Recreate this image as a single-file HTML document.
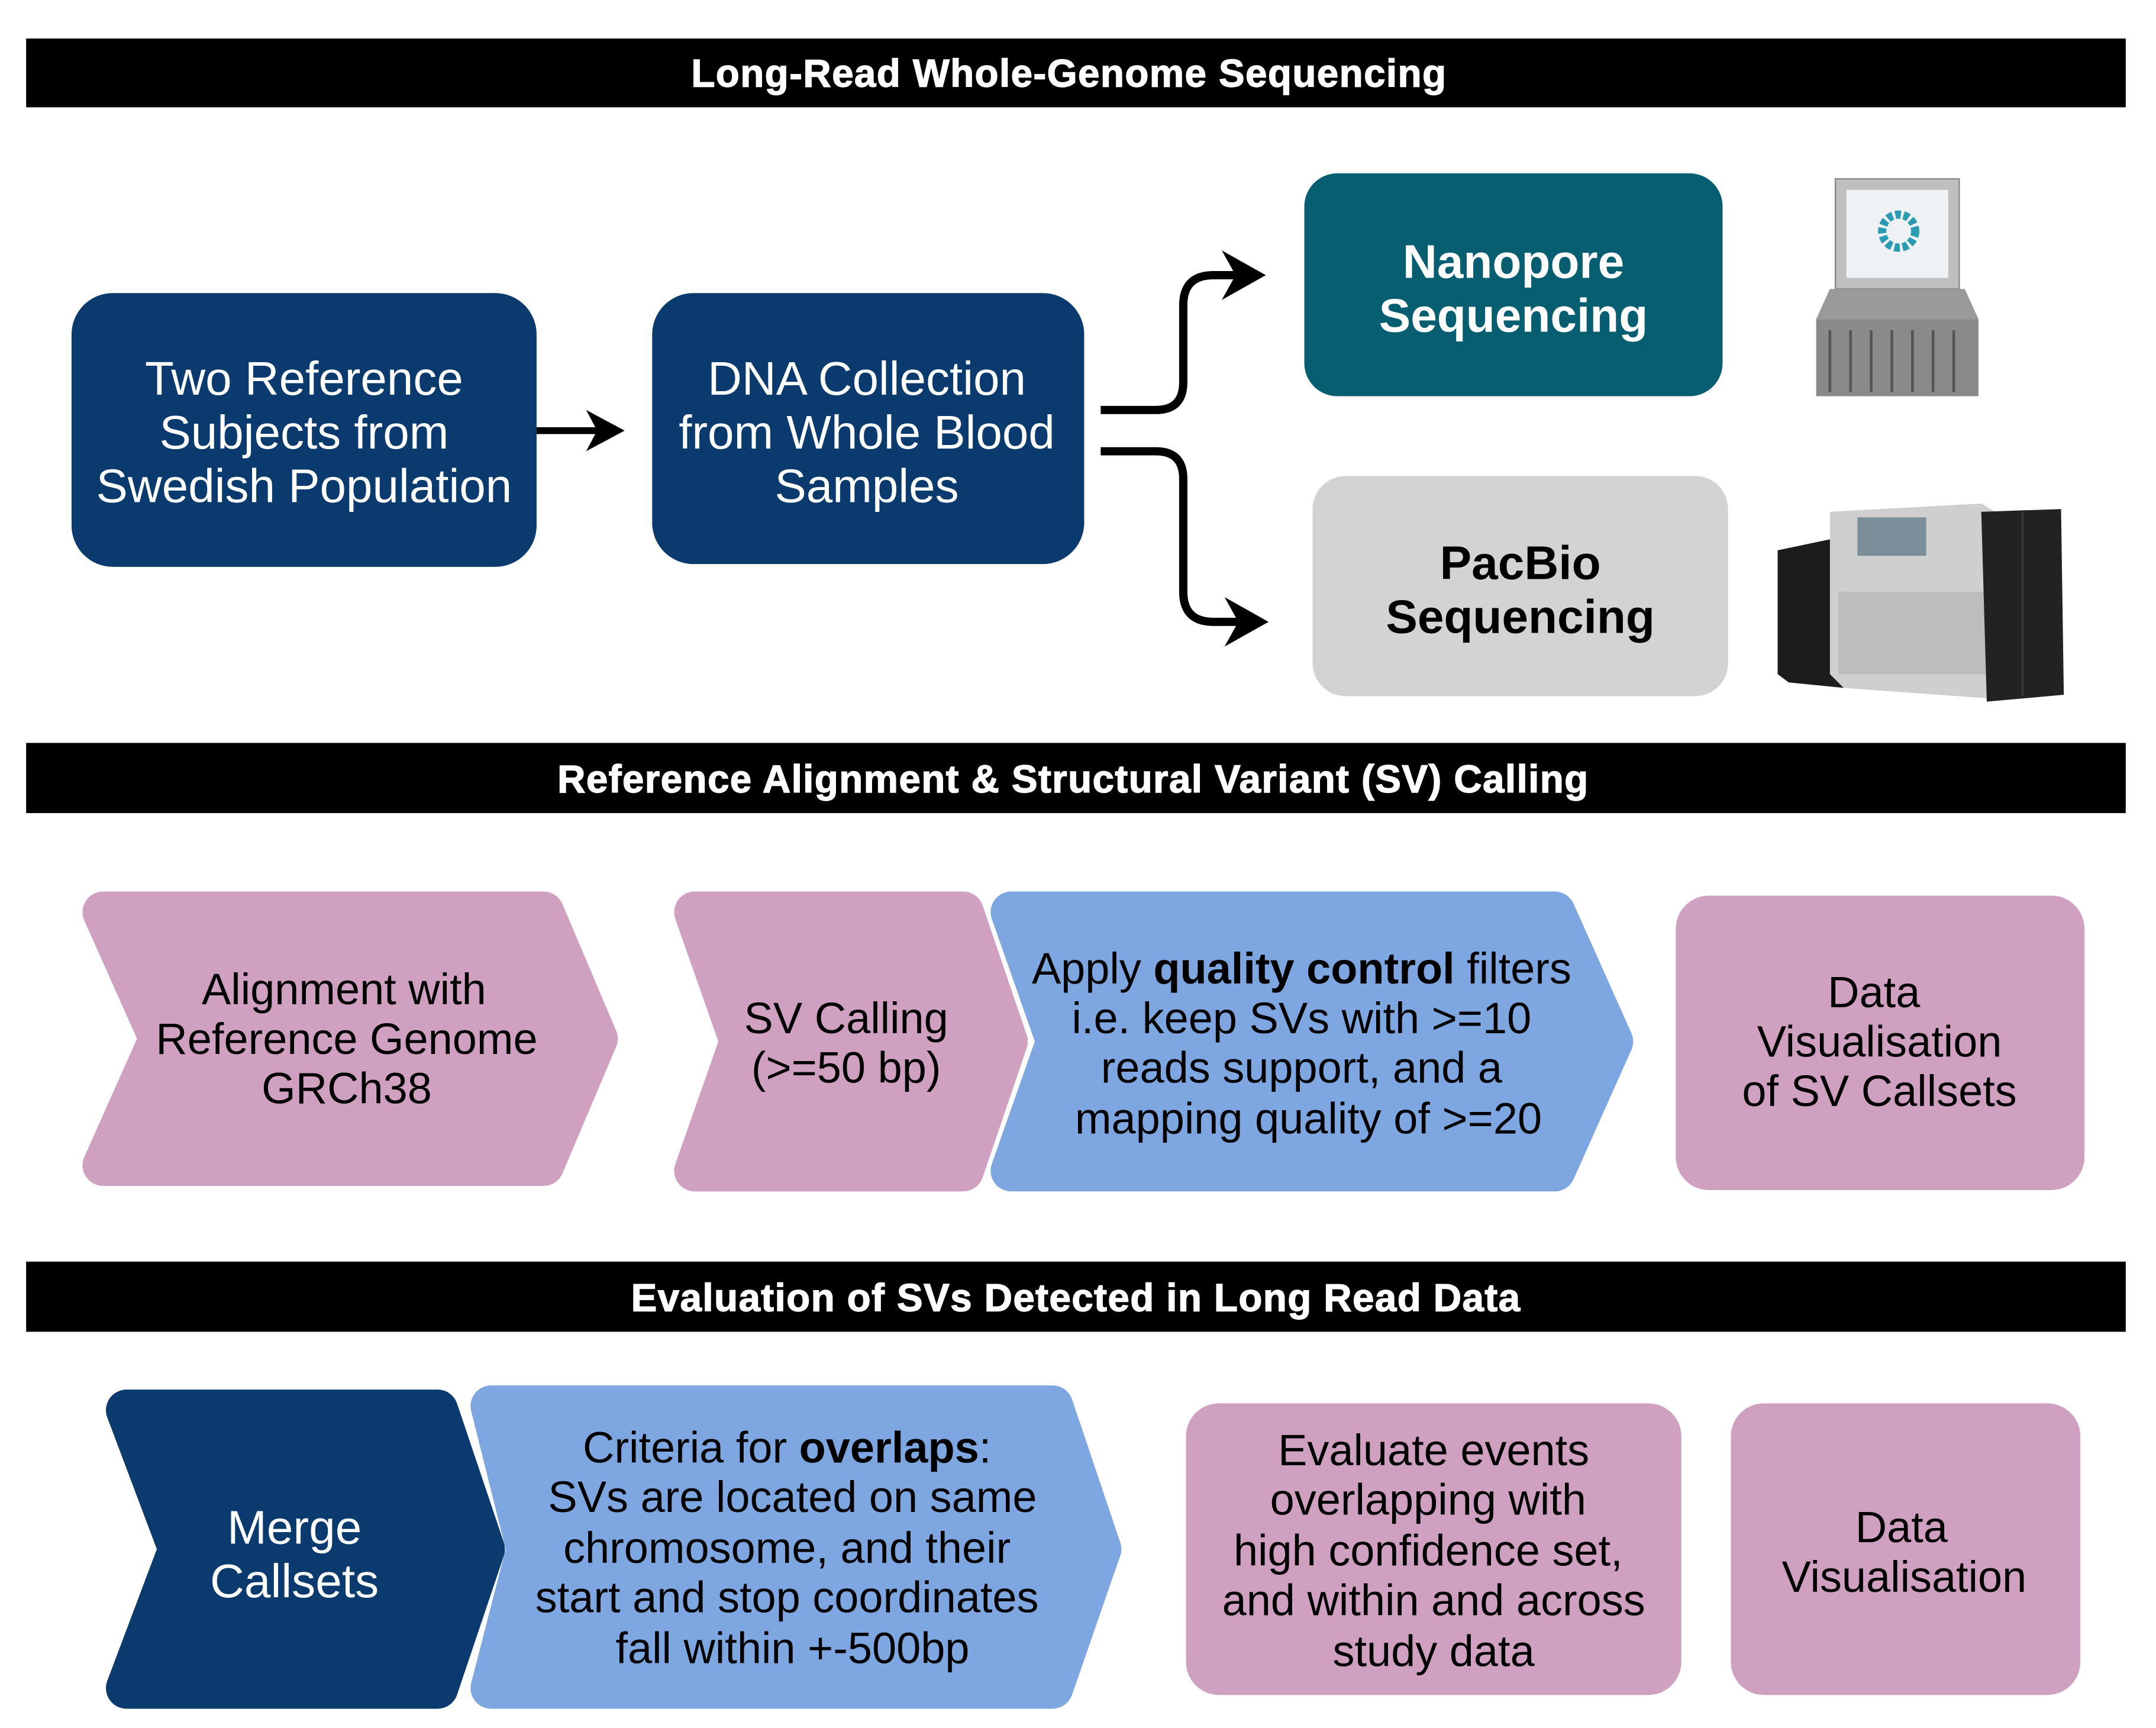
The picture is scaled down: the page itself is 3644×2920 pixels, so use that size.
<!DOCTYPE html>
<html><head><meta charset="utf-8"><style>
html,body{margin:0;padding:0;background:#fff}
svg{display:block}
text{font-family:"Liberation Sans",Arial,sans-serif}
</style></head><body>
<svg width="3644" height="2920" viewBox="0 0 1567 1256" preserveAspectRatio="none" xmlns="http://www.w3.org/2000/svg">
<rect width="1567" height="1256" fill="#fff"/>
<!-- headers -->
<rect x="19" y="28" width="1526" height="50" fill="#000"/>
<text x="777" y="63" font-size="28.2" font-weight="bold" fill="#fff" text-anchor="middle" letter-spacing="0.6" stroke="#fff" stroke-width="0.6">Long-Read Whole-Genome Sequencing</text>
<rect x="19" y="540" width="1526" height="51" fill="#000"/>
<text x="780" y="576" font-size="28.2" font-weight="bold" fill="#fff" text-anchor="middle" letter-spacing="0.6" stroke="#fff" stroke-width="0.6">Reference Alignment &amp; Structural Variant (SV) Calling</text>
<rect x="19" y="917" width="1526" height="51" fill="#000"/>
<text x="782" y="953" font-size="28.2" font-weight="bold" fill="#fff" text-anchor="middle" letter-spacing="0.6" stroke="#fff" stroke-width="0.6">Evaluation of SVs Detected in Long Read Data</text>

<!-- row 1 -->
<rect x="52" y="213" width="338" height="199" rx="30" fill="#0b3a6e"/>
<g font-size="34.4" fill="#fff" text-anchor="middle">
<text x="221" y="287">Two Reference</text>
<text x="221" y="326">Subjects from</text>
<text x="221" y="365">Swedish Population</text>
</g>
<line x1="390" y1="313" x2="440" y2="313" stroke="#000" stroke-width="5"/>
<polygon points="454,313 426,298 434,313 426,328" fill="#000"/>
<rect x="474" y="213" width="314" height="197" rx="30" fill="#0b3a6e"/>
<g font-size="34.4" fill="#fff" text-anchor="middle">
<text x="630" y="287">DNA Collection</text>
<text x="630" y="326">from Whole Blood</text>
<text x="630" y="365">Samples</text>
</g>
<path d="M800,298 H840 Q860,298 860,278 V222 Q860,200 882,200 H905" fill="none" stroke="#000" stroke-width="6"/>
<polygon points="920,200 888,182 898,200 888,218" fill="#000"/>
<path d="M800,328 H840 Q860,328 860,348 V430 Q860,452 882,452 H905" fill="none" stroke="#000" stroke-width="6"/>
<polygon points="922,452 890,434 900,452 890,470" fill="#000"/>
<rect x="948" y="126" width="304" height="162" rx="24" fill="#075e70"/>
<g font-size="34.5" font-weight="bold" fill="#fff" text-anchor="middle">
<text x="1100" y="202">Nanopore</text>
<text x="1100" y="241">Sequencing</text>
</g>
<rect x="954" y="346" width="302" height="160" rx="24" fill="#d3d3d3"/>
<g font-size="34.5" font-weight="bold" fill="#000" text-anchor="middle">
<text x="1105" y="421">PacBio</text>
<text x="1105" y="460">Sequencing</text>
</g>
<!-- nanopore device -->
<g>
<rect x="1334" y="130" width="90" height="80" fill="#bfbfbf" stroke="#888"/>
<rect x="1342" y="138" width="74" height="64" fill="#eef2f4"/>
<circle cx="1380" cy="168" r="12" fill="none" stroke="#2a9bb0" stroke-width="6" stroke-dasharray="4 2"/>
<polygon points="1330,210 1428,210 1438,232 1320,232" fill="#9a9a9a"/>
<rect x="1320" y="232" width="118" height="56" fill="#8a8a8a"/>
<g stroke="#555" stroke-width="2">
<line x1="1330" y1="240" x2="1330" y2="285"/><line x1="1345" y1="240" x2="1345" y2="285"/>
<line x1="1360" y1="240" x2="1360" y2="285"/><line x1="1375" y1="240" x2="1375" y2="285"/>
<line x1="1390" y1="240" x2="1390" y2="285"/><line x1="1405" y1="240" x2="1405" y2="285"/>
<line x1="1420" y1="240" x2="1420" y2="285"/>
</g>
</g>
<!-- pacbio device -->
<g>
<polygon points="1292,400 1330,392 1340,400 1340,500 1300,496 1292,490" fill="#1c1c1c"/>
<polygon points="1330,372 1440,366 1450,372 1450,508 1340,500 1330,490" fill="#cfcfcf"/>
<rect x="1350" y="376" width="50" height="28" fill="#7a8f99"/>
<rect x="1336" y="430" width="110" height="60" fill="#bdbdbd"/>
<polygon points="1440,372 1498,370 1500,505 1444,510" fill="#222"/>
<line x1="1470" y1="372" x2="1470" y2="506" stroke="#333" stroke-width="2"/>
</g>

<!-- row 2 -->
<g stroke-linejoin="round" stroke-width="30">
<polygon points="75,663 395,663 434,755 395,847 75,847 116,755" fill="#cfa0bf" stroke="#cfa0bf"/>
<polygon points="505,663 700,663 732,757 700,851 505,851 538,757" fill="#cfa0bf" stroke="#cfa0bf"/>
<polygon points="735,663 1130,663 1172,757 1130,851 735,851 768,757" fill="#7ea6e0" stroke="#7ea6e0"/>
</g>
<rect x="1218" y="651" width="297" height="214" rx="24" fill="#cfa0bf"/>
<g font-size="31.8" fill="#000" text-anchor="middle">
<text x="250" y="730">Alignment with</text>
<text x="252" y="766">Reference Genome</text>
<text x="252" y="802">GRCh38</text>
<text x="615" y="751">SV Calling</text>
<text x="615" y="787">(&gt;=50 bp)</text>
<text x="946" y="715">Apply <tspan font-weight="bold">quality control</tspan> filters</text>
<text x="946" y="751">i.e. keep SVs with &gt;=10</text>
<text x="946" y="787">reads support, and a</text>
<text x="951" y="824">mapping quality of &gt;=20</text>
<text x="1362" y="732">Data</text>
<text x="1366" y="768">Visualisation</text>
<text x="1366" y="804">of SV Callsets</text>
</g>

<!-- row 3 -->
<g stroke-linejoin="round" stroke-width="30">
<polygon points="92,1025 318,1025 352,1126 318,1227 92,1227 130,1126" fill="#0b3a6e" stroke="#0b3a6e"/>
<polygon points="357,1022 765,1022 800,1126 765,1227 357,1227 383,1126" fill="#7ea6e0" stroke="#7ea6e0"/>
</g>
<rect x="862" y="1020" width="360" height="212" rx="24" fill="#cfa0bf"/>
<rect x="1258" y="1020" width="254" height="212" rx="24" fill="#cfa0bf"/>
<g font-size="34.5" fill="#fff" text-anchor="middle">
<text x="214" y="1122">Merge</text>
<text x="214" y="1161">Callsets</text>
</g>
<g font-size="31.8" fill="#000" text-anchor="middle">
<text x="572" y="1063">Criteria for <tspan font-weight="bold">overlaps</tspan>:</text>
<text x="576" y="1099">SVs are located on same</text>
<text x="572" y="1136">chromosome, and their</text>
<text x="572" y="1172">start and stop coordinates</text>
<text x="576" y="1209">fall within +-500bp</text>
<text x="1042" y="1065">Evaluate events</text>
<text x="1038" y="1101">overlapping with</text>
<text x="1038" y="1138">high confidence set,</text>
<text x="1042" y="1174">and within and across</text>
<text x="1042" y="1211">study data</text>
<text x="1382" y="1121">Data</text>
<text x="1384" y="1157">Visualisation</text>
</g>
</svg>
</body></html>
